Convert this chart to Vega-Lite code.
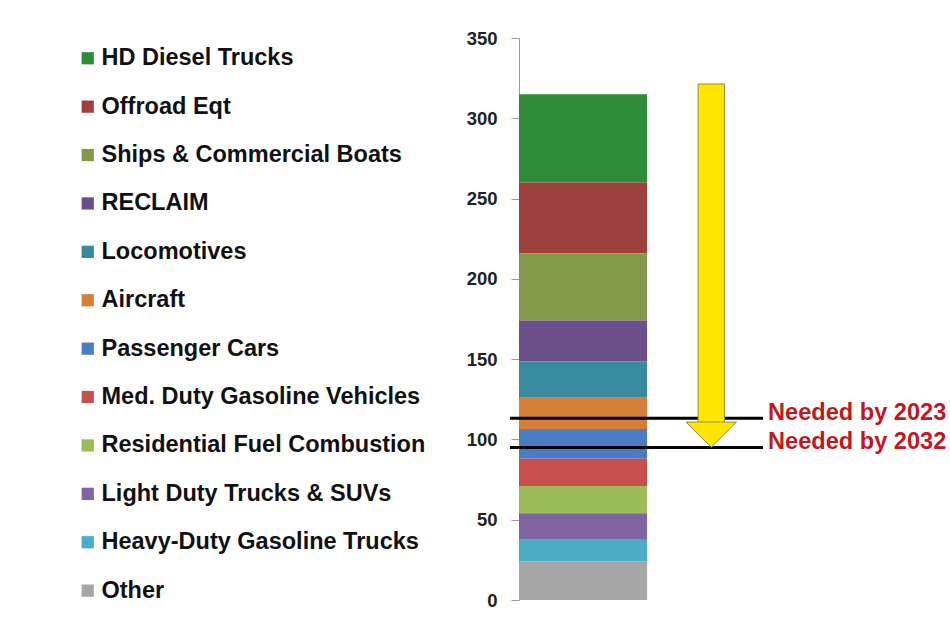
{
  "$schema": "https://vega.github.io/schema/vega-lite/v6.json",
  "width": 244,
  "height": 562,
  "autosize": {"type": "none"},
  "padding": {"left": 519, "top": 38, "right": 187, "bottom": 25},
  "background": "#ffffff",
  "config": {
    "view": {"stroke": null},
    "font": "Liberation Sans"
  },
  "datasets": {
    "sources": [
      {"source": "HD Diesel Trucks", "rank": 12, "emissions": 55},
      {"source": "Offroad Eqt", "rank": 11, "emissions": 44},
      {"source": "Ships & Commercial Boats", "rank": 10, "emissions": 42},
      {"source": "RECLAIM", "rank": 9, "emissions": 25.5},
      {"source": "Locomotives", "rank": 8, "emissions": 22.5},
      {"source": "Aircraft", "rank": 7, "emissions": 19.5},
      {"source": "Passenger Cars", "rank": 6, "emissions": 18.5},
      {"source": "Med. Duty Gasoline Vehicles", "rank": 5, "emissions": 17},
      {"source": "Residential Fuel Combustion", "rank": 4, "emissions": 17},
      {"source": "Light Duty Trucks & SUVs", "rank": 3, "emissions": 16},
      {"source": "Heavy-Duty Gasoline Trucks", "rank": 2, "emissions": 14},
      {"source": "Other", "rank": 1, "emissions": 24}
    ],
    "targets": [
      {"label": "Needed by 2023", "level": 113.2},
      {"label": "Needed by 2032", "level": 95}
    ],
    "arrow": [
      {"start": 321.4, "end": 95}
    ]
  },
  "layer": [
    {
      "data": {"name": "sources"},
      "transform": [
        {"stack": "emissions", "groupby": [], "sort": [{"field": "rank", "order": "ascending"}], "as": ["lo", "hi"]}
      ],
      "mark": {"type": "bar"},
      "encoding": {
        "x": {"datum": 0, "type": "quantitative", "scale": {"domain": [0, 100], "nice": false, "zero": false}, "axis": null},
        "x2": {"datum": 52.5},
        "y": {
          "field": "lo", "type": "quantitative",
          "scale": {"domain": [0, 350], "nice": false},
          "axis": {
            "title": null, "grid": false, "values": [0, 50, 100, 150, 200, 250, 300, 350],
            "domainColor": "#9a9a9a", "tickColor": "#9a9a9a", "tickSize": 8,
            "labelFontSize": 18.5, "labelFontWeight": "bold", "labelColor": "#222222",
            "labelPadding": 14, "labelFont": "Liberation Sans"
          }
        },
        "y2": {"field": "hi"},
        "color": {
          "field": "source", "type": "nominal",
          "scale": {
            "domain": ["HD Diesel Trucks", "Offroad Eqt", "Ships & Commercial Boats", "RECLAIM", "Locomotives", "Aircraft", "Passenger Cars", "Med. Duty Gasoline Vehicles", "Residential Fuel Combustion", "Light Duty Trucks & SUVs", "Heavy-Duty Gasoline Trucks", "Other"],
            "range": ["#2e8b38", "#9e413d", "#82994a", "#6b4f8a", "#378aa0", "#d67f38", "#4b7bc3", "#c8504c", "#9bbb59", "#8064a2", "#4bacc6", "#a6a6a6"]
          },
          "legend": {
            "title": null, "orient": "none", "legendX": -443, "legendY": 8.5,
            "symbolType": "square", "symbolSize": 150, "symbolStrokeWidth": 0,
            "labelFontSize": 23.5, "labelFontWeight": "bold", "labelColor": "#111111",
            "labelFont": "Liberation Sans", "labelOffset": 2, "rowPadding": 23.4,
            "padding": 0, "labelLimit": 500
          }
        }
      }
    },
    {
      "data": {"name": "targets"},
      "mark": {"type": "rule", "color": "#000000", "strokeWidth": 3},
      "encoding": {
        "x": {"datum": -3.7, "type": "quantitative"},
        "x2": {"datum": 100},
        "y": {"field": "level", "type": "quantitative"}
      }
    },
    {
      "data": {"name": "arrow"},
      "mark": {"type": "rect", "color": "#ffe600", "stroke": "#8f8f3c", "strokeWidth": 1, "y2Offset": -20},
      "encoding": {
        "x": {"datum": 73.4, "type": "quantitative"},
        "x2": {"datum": 84.2},
        "y": {"field": "start", "type": "quantitative"},
        "y2": {"field": "end"}
      }
    },
    {
      "data": {"name": "arrow"},
      "mark": {"type": "point", "filled": true, "color": "#ffe600", "stroke": "#8f8f3c", "strokeWidth": 1, "opacity": 1, "size": 2550, "shape": "M-1,-0.5L1,-0.5L0,0.5Z", "yOffset": -12.8},
      "encoding": {
        "x": {"datum": 78.8, "type": "quantitative"},
        "y": {"field": "end", "type": "quantitative"}
      }
    },
    {
      "data": {"name": "targets"},
      "mark": {"type": "text", "align": "left", "baseline": "alphabetic", "dx": 5, "dy": 2, "color": "#c4161c", "fontSize": 23.6, "fontWeight": "bold", "font": "Liberation Sans"},
      "encoding": {
        "x": {"datum": 100, "type": "quantitative"},
        "y": {"field": "level", "type": "quantitative"},
        "text": {"field": "label"}
      }
    }
  ]
}
